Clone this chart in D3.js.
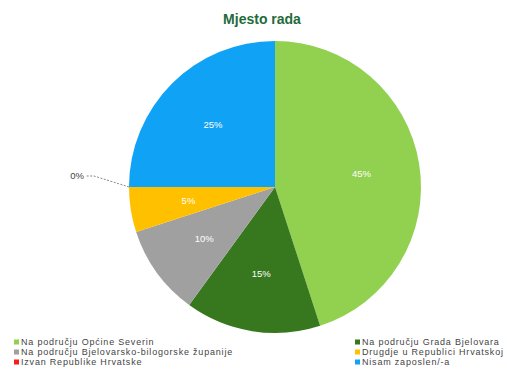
<!DOCTYPE html>
<meta charset="utf-8">
<style>
 body { margin: 0; background: #fff; }
 svg { font-family: "Liberation Sans", Arial, sans-serif; }
 .title { font-size: 14px; font-weight: bold; fill: #1f6b3a; }
 .lbl { font-size: 9.5px; fill: #fff; }
 .legend text { font-size: 9px; letter-spacing: 0.8px; fill: #444; }
</style>
<svg width="507" height="372"></svg>
<script src="https://cdn.jsdelivr.net/npm/d3@7"></script>
<script>
 var categories = ['Na području Općine Severin', 'Na području Grada Bjelovara',
                   'Na području Bjelovarsko-bilogorske županije', 'Drugdje u Republici Hrvatskoj',
                   'Izvan Republike Hrvatske', 'Nisam zaposlen/-a']
 var values = [45, 15, 10, 5, 0, 25]
 var colors = ['#92d050', '#37781f', '#a0a0a0', '#ffc000', '#ff1a1a', '#0fa2f5']

 var svg = d3.select('svg')
 var cx = 275, cy = 187, r = 146

 svg.append('text').attr('class', 'title')
    .attr('x', 262).attr('y', 24).attr('text-anchor', 'middle')
    .text('Mjesto rada')

 var data = categories.map((c, i) => ({name: c, value: values[i], color: colors[i]}))
 var pie = d3.pie().sort(null).value(d => d.value)
 var arcs = pie(data)
 var arc = d3.arc().innerRadius(0).outerRadius(r)
 var lblArc = d3.arc().innerRadius(r * 0.6).outerRadius(r * 0.6)

 var g = svg.append('g').attr('transform', `translate(${cx},${cy})`)
 g.selectAll('path').data(arcs).join('path')
  .attr('d', arc)
  .attr('fill', d => d.data.color)

 g.selectAll('text.lbl').data(arcs.filter(d => d.data.value > 0)).join('text')
  .attr('class', 'lbl')
  .attr('text-anchor', 'middle')
  .attr('dy', '0.35em')
  .attr('transform', d => `translate(${lblArc.centroid(d)})`)
  .text(d => d.data.value + '%')

 // zero slice: outside label with dashed leader
 arcs.filter(d => d.data.value === 0).forEach(d => {
   var a = d.startAngle
   var px = Math.sin(a) * r, py = -Math.cos(a) * r
   var lx = px - 45, ly = py - 11
   g.append('path')
    .attr('d', `M${px},${py} L${lx + 10},${ly} L${lx + 2},${ly}`)
    .attr('fill', 'none').attr('stroke', '#555').attr('stroke-width', 0.7)
    .attr('stroke-dasharray', '2,1.5')
   g.append('text').attr('class', 'lbl').style('fill', '#444')
    .attr('x', lx).attr('y', ly).attr('dy', '0.35em')
    .attr('text-anchor', 'end')
    .text(d.data.value + '%')
 })

 var legend = svg.append('g').attr('class', 'legend')
 var cols = [14, 355], rowY = [342, 352, 362]
 data.forEach((d, i) => {
   var x = cols[i % 2], y = rowY[Math.floor(i / 2)]
   legend.append('rect').attr('x', x).attr('y', y - 2.5)
         .attr('width', 5).attr('height', 5).attr('fill', d.color)
   legend.append('text').attr('x', x + 7).attr('y', y).attr('dy', '0.35em')
         .text(d.name)
 })
</script>
